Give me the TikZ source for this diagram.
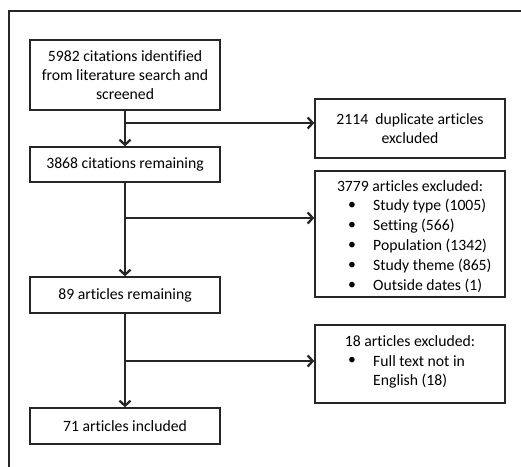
\documentclass[tikz,border=0pt]{standalone}
\usepackage{fontspec}
\setmainfont{Carlito}[Ligatures={NoCommon}]
\usetikzlibrary{arrows.meta}
\tikzset{
  box/.style={draw=black!85, line width=1.5pt, minimum width=190pt, inner sep=0pt, align=center,
    font=\fontsize{15.7}{19.3}\selectfont},
  txt/.style={inner sep=0pt, font=\fontsize{15.7}{19.3}\selectfont},
  flow/.style={draw=black!85, line width=2.8pt, -{Straight Barb[length=5pt,width=11pt,line width=2.3pt]}},
  frame/.style={draw=black!85, line width=1.1pt}
}
\begin{document}
\begin{tikzpicture}[x=1pt,y=-1pt]
\useasboundingbox (0,0) rectangle (521,466);
\draw[frame] (9,470) -- (9,11) -- (525,11);
% left column
\node[box, minimum height=70pt] (b1) at (125,75) {5982 citations identified\\from literature search and\\screened};
\node[box, minimum height=35pt] (b2) at (125,164.5) {3868 citations remaining};
\node[box, minimum height=36pt] (b3) at (125,295) {89 articles remaining};
\node[box, minimum height=36pt] (b4) at (125,426) {71 articles included};
% right column
\node[box, minimum height=59pt] (r1) at (410,128.5) {2114\ \ duplicate articles\\excluded};
\node[box, minimum height=126pt] (r2) at (410,234) {};
\node[box, minimum height=78pt] (r3) at (410,364) {};
% list texts
\node[txt] (h2) at (410,186) {3779 articles excluded:};
\foreach \t [count=\i] in {Study type (1005),Setting (566),Population (1342),Study theme (865),Outside dates (1)}{
  \node[txt] (u\i) at (352,186+20*\i) {\textbullet};
  \node[txt, anchor=west] (l\i) at (373,186+20*\i) {\t};
}
\node[txt] (h3) at (410,341) {18 articles excluded:};
\node[txt] (u6) at (352,361) {\textbullet};
\node[txt, anchor=west] (l6) at (373,361) {Full text not in};
\node[txt, anchor=west] (l7) at (373,381) {English (18)};
% junction coordinates
\coordinate (j1) at (b1.south |- 0,123);
\coordinate (j2) at (b2.south |- 0,218);
\coordinate (j3) at (b3.south |- 0,361);
% connectors
\draw[flow] (b1.south) -- (b2.north);
\draw[flow] (b2.south) -- (b3.north);
\draw[flow] (b3.south) -- (b4.north);
\draw[flow] (j1) -- (j1 -| r1.west);
\draw[flow] (j2) -- (j2 -| r2.west);
\draw[flow] (j3) -- (j3 -| r3.west);
\end{tikzpicture}
\end{document}
